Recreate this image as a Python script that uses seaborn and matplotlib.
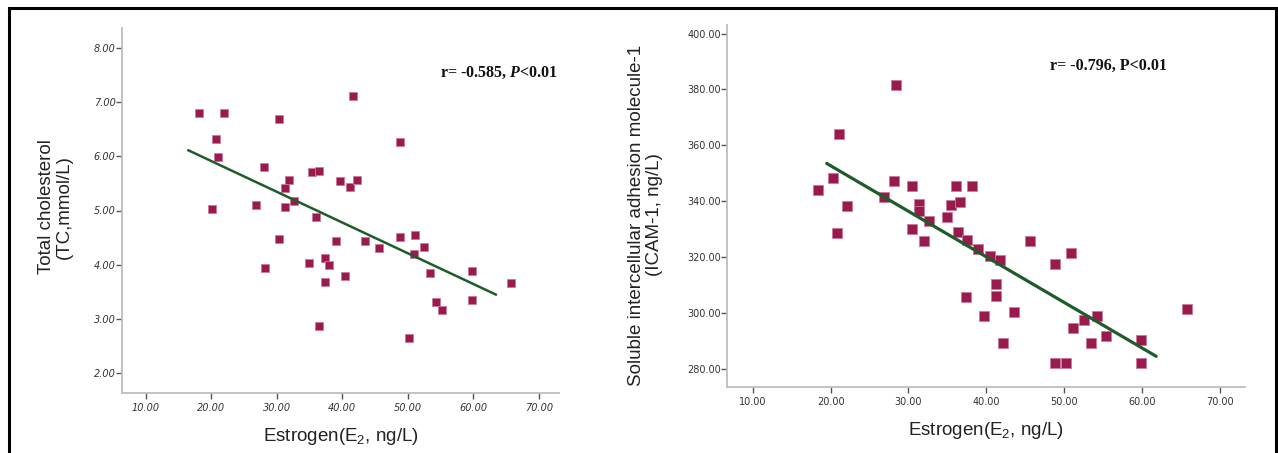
import numpy as np
import pandas as pd
import matplotlib
matplotlib.use("Agg")
import matplotlib.pyplot as plt
import seaborn as sns
from matplotlib.patches import Rectangle

# ---------------- data ----------------
tc_e2 = [18.2, 22.0, 20.7, 21.1, 20.2, 30.3, 28.1, 26.8, 28.3, 30.3,
         31.9, 31.3, 31.3, 32.6, 35.4, 36.5, 36.0, 34.9, 37.4, 38.0,
         37.4, 36.4, 39.0, 39.7, 41.2, 42.2, 41.7, 40.5, 43.5, 45.6,
         48.8, 48.8, 51.1, 50.9, 52.5, 53.4, 50.2, 54.3, 55.2, 59.8,
         59.8, 65.7]
tc_val = [6.79, 6.80, 6.31, 5.98, 5.02, 6.69, 5.80, 5.11, 3.94, 4.47,
          5.56, 5.41, 5.06, 5.17, 5.71, 5.72, 4.88, 4.03, 4.13, 3.99,
          3.68, 2.88, 4.43, 5.54, 5.44, 5.56, 7.10, 3.80, 4.44, 4.31,
          6.27, 4.52, 4.55, 4.20, 4.33, 3.85, 2.65, 3.32, 3.17, 3.89,
          3.36, 3.66]
tc_fit_x = [16.5, 63.5]
tc_fit_y = [6.11, 3.45]

icam_e2 = [18.35, 20.3, 21.1, 22.1, 20.8, 28.4, 26.8, 28.1, 30.4, 31.3,
           31.3, 32.6, 30.5, 32.0, 34.9, 35.4, 36.1, 36.6, 38.1, 36.4,
           37.5, 37.4, 38.9, 39.7, 40.4, 41.7, 41.2, 41.2, 42.1, 43.5,
           45.6, 48.8, 50.9, 48.8, 50.2, 51.1, 52.5, 54.2, 53.4, 55.3,
           59.8, 59.8, 65.7]
icam_val = [344.1, 348.4, 364.1, 338.4, 328.6, 381.7, 341.4, 347.1, 345.5, 338.8,
            336.4, 333.0, 330.1, 325.8, 334.3, 338.7, 345.5, 339.8, 345.5, 328.8,
            326.0, 305.8, 323.0, 299.0, 320.4, 318.8, 310.2, 305.9, 289.0, 300.2,
            325.8, 317.3, 321.4, 281.9, 281.9, 294.5, 297.3, 298.9, 289.0, 291.6,
            290.2, 281.9, 301.5]
icam_fit_x = [19.5, 61.8]
icam_fit_y = [353.5, 284.4]

x_ticks = [10, 20, 30, 40, 50, 60, 70]
tc_ticks = [2, 3, 4, 5, 6, 7, 8]
icam_ticks = [280, 300, 320, 340, 360, 380, 400]

x_label = "Estrogen(E$_2$, ng/L)"
tc_label = "Total cholesterol\n(TC,mmol/L)"
icam_label = "Soluble intercellular adhesion molecule-1\n(ICAM-1, ng/L)"
tc_note = r"r= -0.585, $\mathbfit{P}$<0.01"
icam_note = "r= -0.796, P<0.01"

# ---------------- style ----------------
sns.set_theme(style="white")
plt.rcParams['font.family'] = ['Liberation Sans', 'DejaVu Sans']
plt.rcParams['mathtext.fontset'] = 'custom'
plt.rcParams['mathtext.rm'] = 'Liberation Sans'
plt.rcParams['mathtext.bfit'] = 'Liberation Serif:bold:italic'

POINT = "#9A1A4E"
EDGE = "#C97A9A"
LINE = "#1E5C2A"
SPINE = "#BDBDBD"
TICKC = "#333333"

fig = plt.figure(figsize=(12.78, 4.53), dpi=100)
axL = fig.add_axes([122/1278, 1-393/453, 437/1278, 365/453])
axR = fig.add_axes([727/1278, 1-387/453, 518/1278, 362/453])

df_tc = pd.DataFrame({"e2": tc_e2, "v": tc_val})
df_icam = pd.DataFrame({"e2": icam_e2, "v": icam_val})
df_tc_fit = pd.DataFrame({"e2": tc_fit_x, "v": tc_fit_y})
df_icam_fit = pd.DataFrame({"e2": icam_fit_x, "v": icam_fit_y})

sns.scatterplot(data=df_tc, x="e2", y="v", ax=axL, marker="s", s=38,
                color=POINT, edgecolor=EDGE, linewidth=0.6, zorder=3)
sns.lineplot(data=df_tc_fit, x="e2", y="v", ax=axL, color=LINE, lw=1.8,
             zorder=4, sort=False)
sns.scatterplot(data=df_icam, x="e2", y="v", ax=axR, marker="s", s=55,
                color=POINT, edgecolor=EDGE, linewidth=0.6, zorder=3)
sns.lineplot(data=df_icam_fit, x="e2", y="v", ax=axR, color=LINE, lw=2.3,
             zorder=4, sort=False)

axL.set_xlim(6.4, 73.1)
axL.set_ylim(1.64, 8.36)
axR.set_xlim(6.7, 73.2)
axR.set_ylim(273.4, 403.1)

for ax, yt, italic in ((axL, tc_ticks, True), (axR, icam_ticks, False)):
    ax.set_xticks(x_ticks)
    ax.set_yticks(yt)
    ax.set_xticklabels([f"{t:.2f}" for t in x_ticks],
                       fontsize=7, color=TICKC,
                       style="italic" if italic else "normal",
                       family="DejaVu Sans")
    ax.set_yticklabels([f"{t:.2f}" for t in yt],
                       fontsize=7, color=TICKC,
                       style="italic" if italic else "normal",
                       family="DejaVu Sans")
    ax.tick_params(axis="x", direction="out", length=4, width=1.0,
                   color="#555555", pad=3, bottom=True)
    ax.tick_params(axis="y", direction="out", length=4, width=1.0,
                   color="#555555", pad=0.5, left=True)
    for side in ("top", "right"):
        ax.spines[side].set_visible(False)
    for side in ("left", "bottom"):
        ax.spines[side].set_color(SPINE)
        ax.spines[side].set_linewidth(1.3)
    ax.set_facecolor("white")

axL.set_xlabel(x_label, fontsize=13.5, color="#222222")
axL.xaxis.set_label_coords(0.5, -0.12)
axL.xaxis.label.set_verticalalignment("center")
axL.set_ylabel(tc_label, fontsize=13.5, color="#222222", multialignment="center",
               linespacing=1.1)
axL.yaxis.label.set_verticalalignment("center")
axL.yaxis.set_label_coords(-0.152, 0.51)

axR.set_xlabel(x_label, fontsize=13.5, color="#222222")
axR.xaxis.set_label_coords(0.5, -0.119)
axR.xaxis.label.set_verticalalignment("center")
axR.set_ylabel(icam_label, fontsize=13.5, color="#222222", multialignment="center",
               linespacing=1.1)
axR.yaxis.label.set_verticalalignment("center")
axR.yaxis.set_label_coords(-0.157, 0.475)

axL.text(0.728, 0.877, tc_note, transform=axL.transAxes, fontsize=11.5,
         fontweight="bold", family="Liberation Serif", va="center", ha="left",
         color="#111111")
axR.text(0.624, 0.888, icam_note, transform=axR.transAxes, fontsize=11.5,
         fontweight="bold", family="Liberation Serif", va="center", ha="left",
         color="#111111")

# outer black frame
fig.patches.append(Rectangle((9/1278, -0.05), (1276-9)/1278, 1.05 - 8/453,
                             transform=fig.transFigure, fill=False,
                             edgecolor="black", linewidth=2.2, zorder=10))

fig.savefig("out.png", dpi=100, facecolor="white")
